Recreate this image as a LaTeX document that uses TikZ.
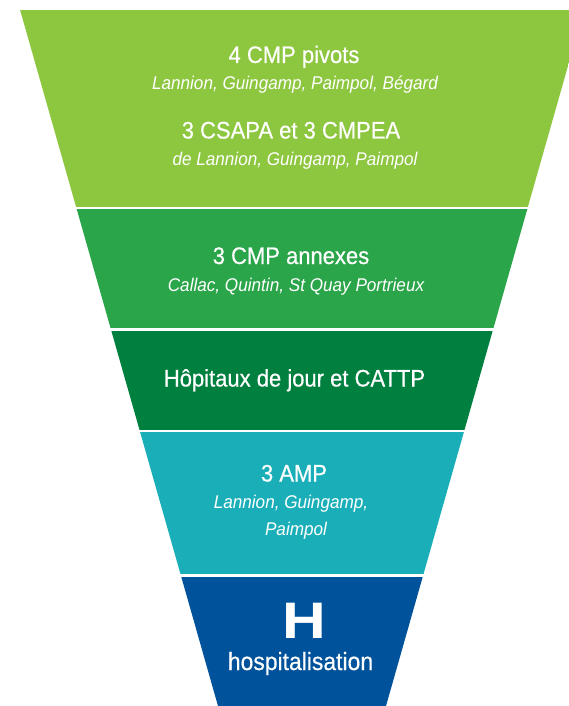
\documentclass[tikz,border=0pt]{standalone}
\usepackage{fontspec}
\setmainfont{Liberation Sans}[FakeStretch=0.93]
\newfontfamily\headfont{Liberation Sans}[FakeStretch=0.92,FakeBold=0.5]
\newfontfamily\hfont{Liberation Sans}[FakeStretch=1.18]
\usepackage{xcolor}
\usepackage{tikz}
\usetikzlibrary{positioning}

\definecolor{bandA}{RGB}{141,198,63}
\definecolor{bandB}{RGB}{43,165,74}
\definecolor{bandC}{RGB}{0,128,62}
\definecolor{bandD}{RGB}{26,175,184}
\definecolor{bandE}{RGB}{0,82,155}

\begin{document}
\begin{tikzpicture}[x=1bp,y=-1bp,
  head/.style={text=white,inner sep=0pt,anchor=base,font=\fontsize{24}{27}\selectfont\headfont},
  sub/.style={text=white,inner sep=0pt,anchor=base,font=\fontsize{18.5}{27}\selectfont\itshape}]
  \useasboundingbox (0,0) rectangle (569,706);
  \begin{scope}
    \clip (20.1,10) -- (583.9,10) -- (386,706) -- (218,706) -- cycle;
    \fill[bandA] (0,10) rectangle (569,206.5);
    \fill[bandB] (0,209) rectangle (569,327.5);
    \fill[bandC] (0,330.5) rectangle (569,429.5);
    \fill[bandD] (0,432) rectangle (569,574);
    \fill[bandE] (0,576.5) rectangle (569,710);
  \end{scope}
  % band texts
  \node[head] (pivots) at (294,63) {4 CMP pivots};
  \node[sub] (pivotsT) at (295,90) {Lannion, Guingamp, Paimpol, Bégard};
  \node[head] (csapa) at (291,138.5) {3 CSAPA et 3 CMPEA};
  \node[sub] (csapaT) at (295,165) {de Lannion, Guingamp, Paimpol};
  \node[head] (annex) at (291,264) {3 CMP annexes};
  \node[sub] (annexT) at (296,291.5) {Callac, Quintin, St Quay Portrieux};
  \node[head] (hdj) at (294.5,386.5) {Hôpitaux de jour et CATTP};
  \node[head] (amp) at (294,481.5) {3 AMP};
  \node[sub] (ampT) at (291,508) {Lannion, Guingamp,};
  \node[sub] (ampU) at (296,535) {Paimpol};
  \node[head,font=\fontsize{51.5}{52}\selectfont\hfont\bfseries] (hosp) at (304.5,638) {H};
  \node[head,font=\fontsize{25}{27}\selectfont\headfont] (hospT) at (300.5,670) {hospitalisation};
\end{tikzpicture}
\end{document}
